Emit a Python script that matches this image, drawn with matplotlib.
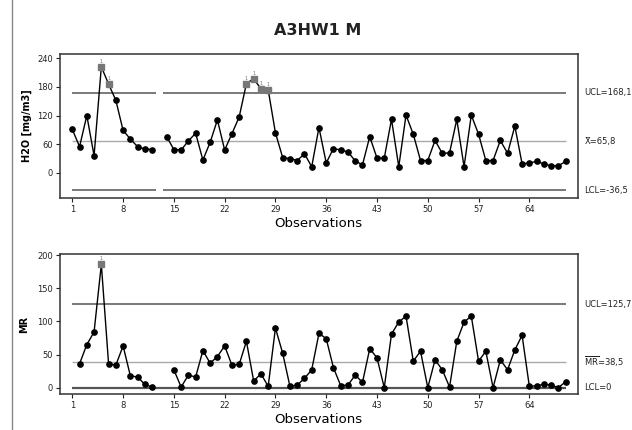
import numpy as np
import matplotlib
matplotlib.use("Agg")
import matplotlib.pyplot as plt

plt.rcParams['font.family'] = ['DejaVu Sans']
plt.rcParams['mathtext.fontset'] = 'dejavusans'

# individual values (obs 13 missing)
obs = np.arange(1, 70)
h2o = [91, 55, 120, 36, 222, 186, 152, 89, 71, 55, 50, 49, np.nan,
       76, 49, 48, 67, 83, 27, 64, 111, 48, 82, 117, 187, 197, 176, 174,
       84, 32, 30, 26, 40, 13, 95, 21, 51, 48, 44, 25, 17, 76, 31, 31,
       112, 13, 121, 81, 26, 26, 68, 41, 42, 112, 13, 121, 81, 26, 26,
       68, 41, 98, 19, 21, 24, 19, 15, 15, 24]
# moving ranges (obs 1, 13, 14 have none)
mr = [np.nan, 36, 65, 84, 186, 36, 34, 63, 18, 16, 5, 1, np.nan,
      np.nan, 27, 1, 19, 16, 56, 37, 47, 63, 34, 35, 70, 10, 21, 2,
      90, 52, 2, 4, 14, 27, 82, 74, 30, 3, 4, 19, 8, 59, 45, 0, 81,
      99, 108, 40, 55, 0, 42, 27, 1, 70, 99, 108, 40, 55, 0, 42, 27,
      57, 79, 2, 3, 5, 4, 0, 9]
h2o_out = [5, 6, 25, 26, 27, 28]
mr_out = [5]

x_ucl, x_cl, x_lcl = 168.1, 65.8, -36.5
mr_ucl, mr_cl, mr_lcl = 125.7, 38.5, 0
xticks = [1, 8, 15, 22, 29, 36, 43, 50, 57, 64]

h2o = np.array(h2o, dtype=float)
mr = np.array(mr, dtype=float)

fig = plt.figure(figsize=(6.32, 4.3), dpi=100)
fig.text(0.503, 0.93, "A3HW1 M", ha='center', va='center',
         fontsize=11.5, fontweight='bold', color='#222222')
# left frame line of the picture
fig.add_artist(plt.Line2D([0.019, 0.019], [0, 1], color='#888888', lw=1))

ax1 = fig.add_axes([0.0949, 0.540, 0.819, 0.3335])
ax2 = fig.add_axes([0.0949, 0.083, 0.819, 0.326])

dark = '#555555'
light = '#aaaaaa'

# --- individuals chart
for seg in [(1, 12.5), (13.5, 69)]:
    ax1.hlines([x_ucl, x_lcl], seg[0], seg[1], color=dark, lw=1.1)
ax1.hlines(x_cl, 1, 69, color=light, lw=1)
ax1.plot(obs, h2o, color='black', lw=1, marker='o', ms=3.8, zorder=3)
idx = np.array(h2o_out) - 1
ax1.plot(obs[idx], h2o[idx], ls='none', marker='s', ms=4.5,
         color='#777777', zorder=4)
for i in idx:
    ax1.text(obs[i], h2o[i] + 6, "1", ha='center', va='bottom',
             fontsize=3.5, color='#777777')
ax1.set_ylim(-52, 248)
ax1.set_yticks([0, 60, 120, 180, 240])
ax1.set_ylabel("H2O [mg/m3]", fontsize=7, fontweight='bold', labelpad=4)
ax1.set_xlabel("Observations", fontsize=9.5, labelpad=2)

ax1.text(1.013, (x_ucl + 52) / 300, "UCL=168,1", transform=ax1.transAxes,
         fontsize=6, va='center', color='#222222')
ax1.text(1.013, (x_cl + 52) / 300, "X\u0304=65,8", transform=ax1.transAxes,
         fontsize=6, va='center', color='#222222')
ax1.text(1.013, (x_lcl + 52) / 300, "LCL=-36,5", transform=ax1.transAxes,
         fontsize=6, va='center', color='#222222')

# --- moving range chart
ax2.hlines(mr_ucl, 1, 69, color=dark, lw=1.1)
ax2.hlines(mr_cl, 1, 69, color=light, lw=1)
ax2.hlines(mr_lcl, 1, 69, color=dark, lw=1.6)
ax2.plot(obs, mr, color='black', lw=1, marker='o', ms=3.8, zorder=3)
idx = np.array(mr_out) - 1
ax2.plot(obs[idx], mr[idx], ls='none', marker='s', ms=4.5,
         color='#777777', zorder=4)
for i in idx:
    ax2.text(obs[i], mr[i] + 5, "1", ha='center', va='bottom',
             fontsize=3.5, color='#777777')
ax2.set_ylim(-10, 201.5)
ax2.set_yticks([0, 50, 100, 150, 200])
ax2.set_ylabel("MR", fontsize=7, fontweight='bold', labelpad=6)
ax2.set_xlabel("Observations", fontsize=9.5, labelpad=2)

ax2.text(1.013, (mr_ucl + 10) / 211.5, "UCL=125,7", transform=ax2.transAxes,
         fontsize=6, va='center', color='#222222')
ax2.text(1.013, (mr_cl + 10) / 211.5, r"$\overline{\mathrm{MR}}$=38,5",
         transform=ax2.transAxes, fontsize=6, va='center', color='#222222')
ax2.text(1.013, (mr_lcl + 10) / 211.5, "LCL=0", transform=ax2.transAxes,
         fontsize=6, va='center', color='#222222')

for ax in (ax1, ax2):
    ax.set_xlim(-0.7, 70.65)
    ax.set_xticks(xticks)
    ax.tick_params(labelsize=6, length=3, width=0.8, colors='#222222', pad=2)
    for s in ax.spines.values():
        s.set_color('#333333')
        s.set_linewidth(1.1)

fig.savefig("out.png", dpi=100, facecolor='white')
